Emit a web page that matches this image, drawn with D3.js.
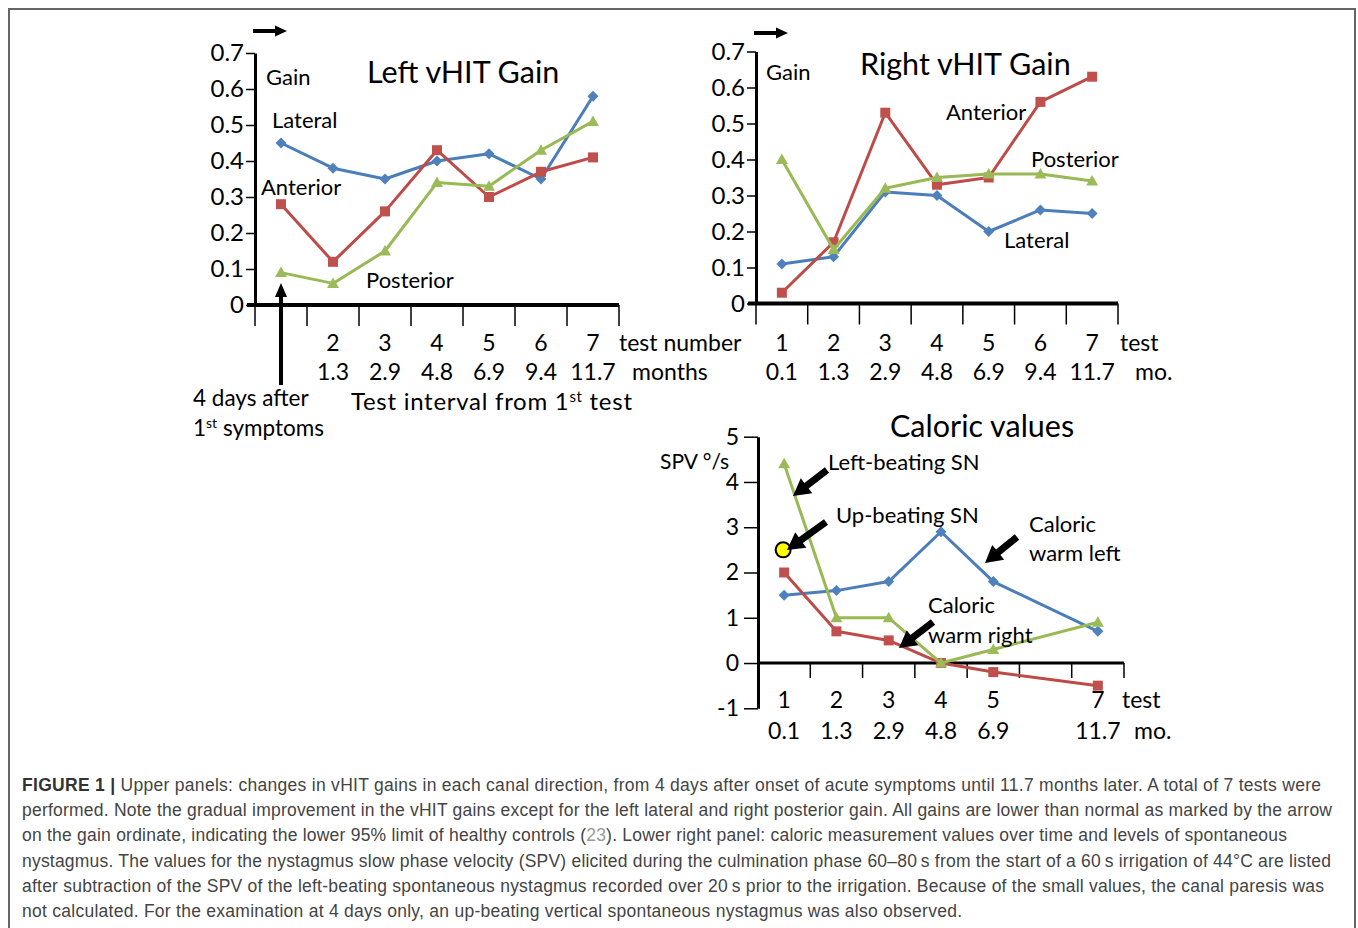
<!DOCTYPE html>
<html>
<head>
<meta charset="utf-8">
<script src="https://cdn.jsdelivr.net/npm/d3@7"></script>
<style>
  body { margin: 0; background: #fff; }
  svg { display: block; }
</style>
</head>
<body>
<svg id="fig" width="1358" height="928"></svg>
<script>
// values
const tests = [1, 2, 3, 4, 5, 6, 7];
const gainTicks = [0, 0.1, 0.2, 0.3, 0.4, 0.5, 0.6, 0.7];
const caloricTicks = [-1, 0, 1, 2, 3, 4, 5];

const leftTestLabels = ["", "2", "3", "4", "5", "6", "7"];
const leftMonthLabels = ["", "1.3", "2.9", "4.8", "6.9", "9.4", "11.7"];
const rightTestLabels = ["1", "2", "3", "4", "5", "6", "7"];
const rightMonthLabels = ["0.1", "1.3", "2.9", "4.8", "6.9", "9.4", "11.7"];
const caloricTestLabels = ["1", "2", "3", "4", "5", "", "7"];
const caloricMonthLabels = ["0.1", "1.3", "2.9", "4.8", "6.9", "", "11.7"];

const leftLateral = [0.45, 0.38, 0.35, 0.40, 0.42, 0.35, 0.58];
const leftAnterior = [0.28, 0.12, 0.26, 0.43, 0.30, 0.37, 0.41];
const leftPosterior = [0.09, 0.06, 0.15, 0.34, 0.33, 0.43, 0.51];

const rightLateral = [0.11, 0.13, 0.31, 0.30, 0.20, 0.26, 0.25];
const rightAnterior = [0.03, 0.17, 0.53, 0.33, 0.35, 0.56, 0.63];
const rightPosterior = [0.40, 0.15, 0.32, 0.35, 0.36, 0.36, 0.34];

const warmLeft = [1.5, 1.6, 1.8, 2.9, 1.8, null, 0.7];
const warmRight = [2.0, 0.7, 0.5, 0.0, -0.2, null, -0.5];
const leftBeatingSN = [4.4, 1.0, 1.0, 0.0, 0.3, null, 0.9];
const upBeatingSN = [2.5, null, null, null, null, null, null];

const captionLines = [
  [["FIGURE 1 | ", "b"], ["Upper panels: changes in vHIT gains in each canal direction, from 4 days after onset of acute symptoms until 11.7 months later. A total of 7 tests were", ""]],
  [["performed. Note the gradual improvement in the vHIT gains except for the left lateral and right posterior gain. All gains are lower than normal as marked by the arrow", ""]],
  [["on the gain ordinate, indicating the lower 95% limit of healthy controls (", ""], ["23", "ref"], ["). Lower right panel: caloric measurement values over time and levels of spontaneous", ""]],
  [["nystagmus. The values for the nystagmus slow phase velocity (SPV) elicited during the culmination phase 60\u201380\u2009s from the start of a 60\u2009s irrigation of 44\u00b0C are listed", ""]],
  [["after subtraction of the SPV of the left-beating spontaneous nystagmus recorded over 20\u2009s prior to the irrigation. Because of the small values, the canal paresis was", ""]],
  [["not calculated. For the examination at 4 days only, an up-beating vertical spontaneous nystagmus was also observed.", ""]]
];
const captionEnds = [1321, 1332, 1287, 1331, 1324, 962];

const FONT = "Lato, 'Open Sans', sans-serif";
const BLUE = {line: "#4a7ebb", fill: "#4f81bd", marker: "diamond"};
const RED = {line: "#be4b48", fill: "#c0504d", marker: "square"};
const GREEN = {line: "#98b954", fill: "#9bbb59", marker: "triangle"};

const svg = d3.select("#fig");

// frame
svg.append("path")
  .attr("d", "M9,928V9H1355V928")
  .attr("fill", "none").attr("stroke", "#666").attr("stroke-width", 2);

function markerPath(type) {
  if (type === "diamond") return "M0,-5.5L5.5,0L0,5.5L-5.5,0Z";
  if (type === "square") return "M-5,-5H5V5H-5Z";
  return "M0,-6L6,4.5L-6,4.5Z";
}

function label(g, x, y, txt, size, anchor) {
  return g.append("text")
    .attr("x", x).attr("y", y)
    .attr("font-family", FONT).attr("font-size", size)
    .attr("text-anchor", anchor || "start")
    .attr("fill", "#000")
    .text(txt);
}

function arrow(g, x1, y1, x2, y2, w, head, hw) {
  const dx = x2 - x1, dy = y2 - y1, len = Math.hypot(dx, dy);
  const ux = dx / len, uy = dy / len, px = -uy, py = ux;
  const bx = x2 - ux * head, by = y2 - uy * head;
  const pts = [
    [x1 + px * w / 2, y1 + py * w / 2], [bx + px * w / 2, by + py * w / 2],
    [bx + px * hw / 2, by + py * hw / 2], [x2, y2],
    [bx - px * hw / 2, by - py * hw / 2], [bx - px * w / 2, by - py * w / 2],
    [x1 - px * w / 2, y1 - py * w / 2]
  ];
  g.append("polygon").attr("points", pts.map(p => p.join(",")).join(" ")).attr("fill", "#000");
}

function drawSeries(g, x, y, values, style) {
  const pts = values.map((v, i) => ({t: tests[i], v: v})).filter(d => d.v !== null);
  const cx = d => x(d.t) + x.bandwidth() / 2;
  g.append("path").datum(pts)
    .attr("fill", "none").attr("stroke", style.line)
    .attr("stroke-width", 3).attr("stroke-linejoin", "round")
    .attr("d", d3.line().x(cx).y(d => y(d.v)));
  g.selectAll(null).data(pts).enter().append("path")
    .attr("d", markerPath(style.marker))
    .attr("transform", d => "translate(" + cx(d) + "," + y(d.v) + ")")
    .attr("fill", style.fill);
}

function styleAxis(a, width, size) {
  a.attr("font-family", FONT).attr("font-size", size);
  a.select(".domain").attr("stroke-width", width);
  a.selectAll(".tick line").attr("stroke-width", 1.5);
  a.selectAll(".tick text").attr("fill", "#000");
}

function bandTicks(g, x, y0, len) {
  const bounds = x.domain().map(t => x(t)).concat(x.range()[1]);
  g.selectAll(null).data(bounds).enter().append("line")
    .attr("x1", d => d).attr("x2", d => d)
    .attr("y1", y0).attr("y2", y0 + len)
    .attr("stroke", "#000").attr("stroke-width", 1.5);
}

function bandLabels(g, x, labels, yPos, size) {
  g.selectAll(null).data(tests).enter().append("text")
    .attr("x", t => x(t) + x.bandwidth() / 2).attr("y", yPos)
    .attr("text-anchor", "middle")
    .attr("font-family", FONT).attr("font-size", size)
    .text((t, i) => labels[i]);
}

function gainPanel(p) {
  const g = svg.append("g");
  const x = d3.scaleBand().domain(tests).range(p.xRange);
  const y = d3.scaleLinear().domain([0, 0.7]).range(p.yRange);

  const ya = g.append("g")
    .attr("transform", "translate(" + p.xRange[0] + ",0)")
    .call(d3.axisLeft(y).tickValues(gainTicks).tickSize(9).tickSizeOuter(0).tickPadding(2)
      .tickFormat(d => d === 0 ? "0" : d3.format(".1f")(d)));
  styleAxis(ya, 3, 24);

  g.append("line")
    .attr("x1", p.xRange[0] - 8).attr("x2", p.xRange[1])
    .attr("y1", y(0)).attr("y2", y(0))
    .attr("stroke", "#000").attr("stroke-width", 4);
  bandTicks(g, x, y(0), 21);

  drawSeries(g, x, y, p.lateral, BLUE);
  drawSeries(g, x, y, p.anterior, RED);
  drawSeries(g, x, y, p.posterior, GREEN);

  bandLabels(g, x, p.testLabels, 351, 23);
  bandLabels(g, x, p.monthLabels, 380, 23);

  // lower 95% limit marker above the ordinate
  arrow(g, p.xRange[0] - 2, p.arrowY, p.xRange[0] + 32, p.arrowY, 4, 12, 11);
  return {g: g, x: x, y: y};
}

// ---------- left vHIT gain ----------
const left = gainPanel({
  xRange: [255, 619], yRange: [305, 53], arrowY: 31,
  lateral: leftLateral, anterior: leftAnterior, posterior: leftPosterior,
  testLabels: leftTestLabels, monthLabels: leftMonthLabels
});
label(left.g, 266, 85, "Gain", 22);
label(left.g, 367, 83, "Left vHIT Gain", 30.5);
label(left.g, 272, 128, "Lateral", 22);
label(left.g, 261, 195, "Anterior", 22);
label(left.g, 366, 288, "Posterior", 22);
label(left.g, 619, 351, "test number", 23);
label(left.g, 632, 380, "months", 23);
label(left.g, 193, 406, "4 days after", 22.5);
const sym = label(left.g, 193, 436, "", 22.5);
sym.append("tspan").text("1");
sym.append("tspan").attr("font-size", 14).attr("dy", -8).text("st");
sym.append("tspan").attr("dy", 8).text(" symptoms");
const ti = label(left.g, 351, 409.5, "", 24)
  .attr("textLength", 281).attr("lengthAdjust", "spacing");
ti.append("tspan").text("Test interval from 1");
ti.append("tspan").attr("font-size", 15).attr("dy", -8).text("st");
ti.append("tspan").attr("dy", 8).text(" test");
{
  const ax = left.x(1) + left.x.bandwidth() / 2;
  arrow(left.g, ax, 385, ax, 283, 4, 14, 12);
}

// ---------- right vHIT gain ----------
const right = gainPanel({
  xRange: [756, 1118], yRange: [303.5, 51.5], arrowY: 33,
  lateral: rightLateral, anterior: rightAnterior, posterior: rightPosterior,
  testLabels: rightTestLabels, monthLabels: rightMonthLabels
});
label(right.g, 766, 80, "Gain", 22);
label(right.g, 860, 75, "Right vHIT Gain", 30.5);
label(right.g, 946, 120, "Anterior", 22);
label(right.g, 1031, 167, "Posterior", 22);
label(right.g, 1004, 248, "Lateral", 22);
label(right.g, 1120, 351, "test", 23);
label(right.g, 1135, 380, "mo.", 23);

// ---------- caloric values ----------
{
  const g = svg.append("g");
  const x = d3.scaleBand().domain(tests).range([758, 1124]);
  const y = d3.scaleLinear().domain([-1, 5]).range([708.3, 436.7]);

  const ya = g.append("g")
    .attr("transform", "translate(758,0)")
    .call(d3.axisLeft(y).tickValues(caloricTicks).tickSize(14).tickSizeOuter(0).tickPadding(5)
      .tickFormat(d => String(d)));
  styleAxis(ya, 3, 23);

  g.append("line")
    .attr("x1", 758).attr("x2", 1124)
    .attr("y1", y(0)).attr("y2", y(0))
    .attr("stroke", "#000").attr("stroke-width", 3);
  bandTicks(g, x, y(0), 15);

  drawSeries(g, x, y, warmLeft, BLUE);
  drawSeries(g, x, y, warmRight, RED);
  drawSeries(g, x, y, leftBeatingSN, GREEN);

  const up = upBeatingSN.map((v, i) => ({t: tests[i], v: v})).filter(d => d.v !== null);
  g.selectAll(null).data(up).enter().append("circle")
    .attr("cx", d => x(d.t) + x.bandwidth() / 2 - 1)
    .attr("cy", d => y(d.v))
    .attr("r", 7.5)
    .attr("fill", "#ffff00").attr("stroke", "#000").attr("stroke-width", 2);

  bandLabels(g, x, caloricTestLabels, 708, 23);
  bandLabels(g, x, caloricMonthLabels, 739, 23);
  label(g, 1122, 708, "test", 23);
  label(g, 1134, 739, "mo.", 23);

  label(g, 890, 437, "Caloric values", 30.5);
  label(g, 660, 469, "SPV \u00b0/s", 21);
  label(g, 828, 470, "Left-beating SN", 22);
  label(g, 836, 523, "Up-beating SN", 22);
  label(g, 1029, 532, "Caloric", 22);
  label(g, 1029, 561, "warm left", 22);
  label(g, 928, 613, "Caloric", 22);
  label(g, 928, 643, "warm right", 22);

  arrow(g, 827, 470, 793, 496, 7, 17, 19);
  arrow(g, 826, 522, 787, 550, 7, 17, 19);
  arrow(g, 1017, 537, 985, 563, 7, 17, 19);
  arrow(g, 933, 622, 899, 648, 7, 17, 19);
}

// ---------- caption ----------
{
  const g = svg.append("g");
  captionLines.forEach((segs, i) => {
    const t = g.append("text")
      .attr("x", 22).attr("y", 791 + i * 25.2)
      .attr("font-family", "'Liberation Sans', Arial, sans-serif")
      .attr("font-size", 17.5)
      .attr("fill", "#444")
      .attr("textLength", captionEnds[i] - 22)
      .attr("lengthAdjust", "spacing");
    segs.forEach(s => {
      const sp = t.append("tspan").text(s[0]);
      if (s[1] === "b") sp.attr("font-weight", "bold").attr("fill", "#333");
      if (s[1] === "ref") sp.attr("fill", "#999");
    });
  });
}
</script>
</body>
</html>
